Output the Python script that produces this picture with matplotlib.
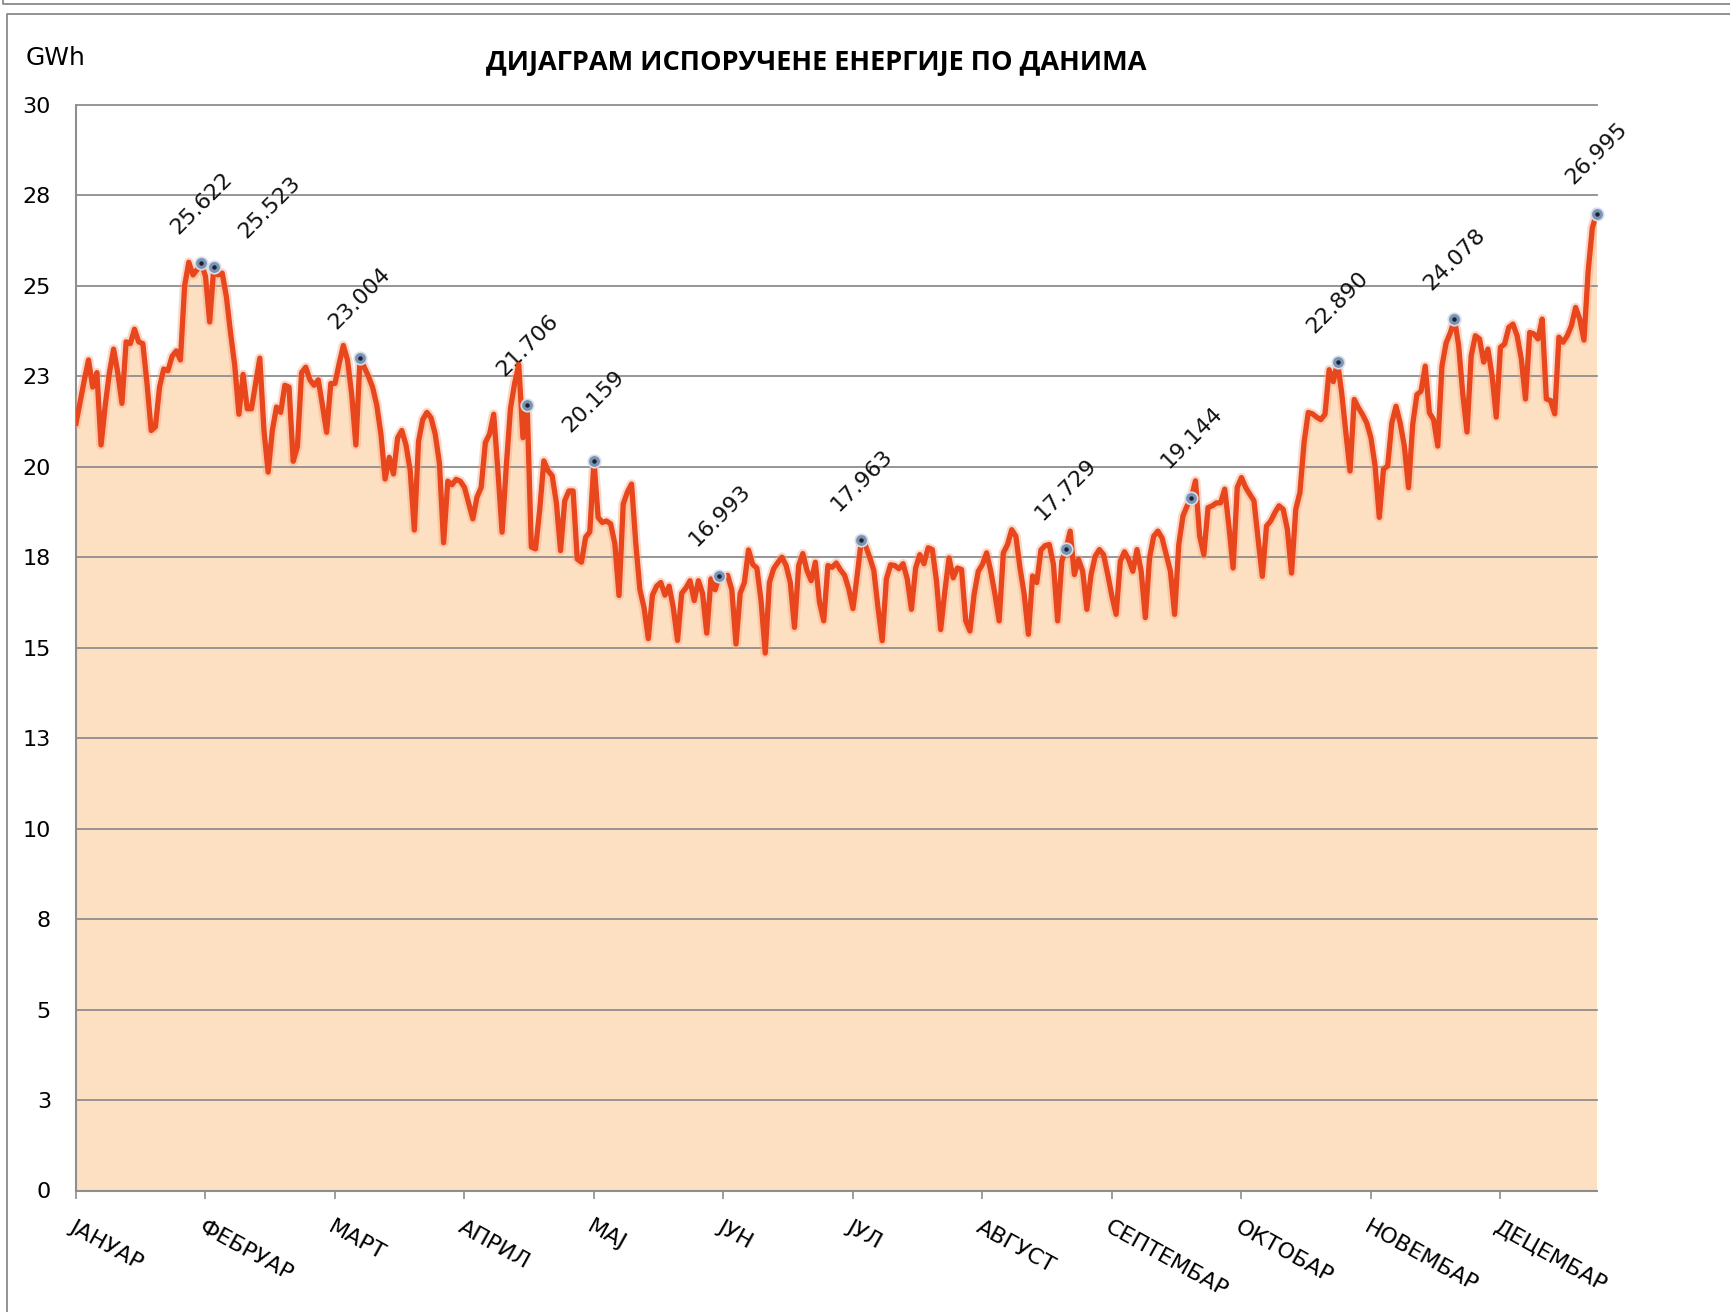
import numpy as np
import matplotlib.pyplot as plt
from matplotlib.lines import Line2D

# Daily delivered energy (GWh), one list per month
jan = [21.2, 21.8, 22.4, 22.95, 22.2, 22.6, 20.6, 21.7, 22.6, 23.25, 22.6, 21.75,
       23.45, 23.4, 23.8, 23.45, 23.4, 22.3, 21.0, 21.1, 22.2, 22.7, 22.65, 23.05,
       23.2, 22.95, 25.0, 25.65, 25.3, 25.45, 25.622]
feb = [25.26, 24.0, 25.523, 25.3, 25.35, 24.7, 23.7, 22.8, 21.45, 22.55, 21.6, 21.6,
       22.3, 23.0, 21.0, 19.85, 21.0, 21.65, 21.5, 22.25, 22.2, 20.15, 20.55, 22.6,
       22.75, 22.4, 22.25, 22.4]
mar = [21.7, 20.95, 22.3, 22.3, 22.85, 23.35, 22.95, 22.0, 20.6, 23.004, 22.75, 22.5,
       22.2, 21.7, 20.9, 19.66, 20.26, 19.8, 20.8, 21.0, 20.6, 19.9, 18.25, 20.7,
       21.3, 21.5, 21.35, 20.9, 20.1, 17.9, 19.6]
apr = [19.5, 19.65, 19.6, 19.43, 19.0, 18.56, 19.16, 19.43, 20.67, 20.9, 21.45, 19.9,
       18.19, 20.0, 21.6, 22.3, 22.82, 20.8, 21.706, 17.78, 17.73, 18.8, 20.16, 19.89,
       19.75, 19.0, 17.68, 19.06, 19.33, 19.33]
may = [17.45, 17.36, 18.05, 18.2, 20.159, 18.6, 18.46, 18.5, 18.42, 17.87, 16.44, 18.97,
       19.3, 19.52, 17.9, 16.6, 16.1, 15.25, 16.45, 16.7, 16.8, 16.45, 16.7, 16.1,
       15.2, 16.5, 16.65, 16.85, 16.3, 16.85, 16.5]
jun = [15.4, 16.9, 16.6, 16.993, 16.95, 17.0, 16.6, 15.1, 16.5, 16.8, 17.7, 17.3,
       17.2, 16.3, 14.85, 16.8, 17.18, 17.35, 17.5, 17.27, 16.8, 15.56, 17.27, 17.6,
       17.13, 16.85, 17.36, 16.25, 15.74, 17.27]
jul = [17.22, 17.34, 17.15, 17.0, 16.62, 16.08, 16.99, 17.963, 17.82, 17.5, 17.13, 16.1,
       15.19, 16.9, 17.29, 17.27, 17.18, 17.32, 16.9, 16.06, 17.2, 17.57, 17.32, 17.76,
       17.71, 16.84, 15.5, 16.56, 17.48, 16.93, 17.2]
aug = [17.16, 15.74, 15.46, 16.47, 17.11, 17.3, 17.62, 17.11, 16.47, 15.74, 17.62, 17.85,
       18.26, 18.08, 17.2, 16.47, 15.37, 16.98, 16.8, 17.7, 17.82, 17.85, 17.3, 15.74,
       17.39, 17.729, 18.22, 17.02, 17.44, 17.11, 16.06]
sep = [17.02, 17.53, 17.71, 17.57, 17.02, 16.42, 15.92, 17.39, 17.65, 17.44, 17.11, 17.71,
       17.11, 15.83, 17.48, 18.08, 18.22, 18.03, 17.57, 17.11, 15.92, 17.85, 18.64, 18.92,
       19.144, 19.61, 18.08, 17.57, 18.87, 18.92]
oct_ = [19.0, 19.0, 19.38, 18.36, 17.2, 19.43, 19.7, 19.43, 19.24, 19.06, 17.99, 16.97,
        18.36, 18.5, 18.73, 18.92, 18.82, 18.27, 17.06, 18.82, 19.29, 20.68, 21.5, 21.46,
        21.37, 21.3, 21.45, 22.68, 22.35, 22.890, 22.04]
nov = [20.94, 19.88, 21.86, 21.63, 21.44, 21.21, 20.8, 20.02, 18.6, 19.93, 20.02, 21.21,
       21.67, 21.21, 20.57, 19.42, 21.17, 21.99, 22.09, 22.78, 21.49, 21.3, 20.57, 22.78,
       23.42, 23.7, 24.078, 23.35, 22.0, 20.96]
dec = [23.07, 23.62, 23.53, 22.89, 23.25, 22.52, 21.37, 23.3, 23.39, 23.85, 23.94, 23.62,
       22.98, 21.87, 23.71, 23.67, 23.53, 24.08, 21.87, 21.83, 21.46, 23.58, 23.44, 23.62,
       23.9, 24.4, 24.08, 23.5, 25.4, 26.6, 26.995]

months = ['ЈАНУАР', 'ФЕБРУАР', 'МАРТ', 'АПРИЛ', 'МАЈ', 'ЈУН', 'ЈУЛ', 'АВГУСТ',
          'СЕПТЕМБАР', 'ОКТОБАР', 'НОВЕМБАР', 'ДЕЦЕМБАР']
y_ticks = [0, 2.5, 5, 7.5, 10, 12.5, 15, 17.5, 20, 22.5, 25, 27.5, 30]
y_tick_labels = ['0', '3', '5', '8', '10', '13', '15', '18', '20', '23', '25', '28', '30']
# days (0-based) that carry a value label
marked_days = [30, 33, 68, 108, 124, 154, 188, 237, 267, 302, 330, 364]

values = np.array(jan + feb + mar + apr + may + jun + jul + aug + sep + oct_ + nov + dec)
days = np.arange(len(values))

W, H = 1730, 1312
fig = plt.figure(figsize=(W / 100, H / 100), dpi=100)
plt.rcParams['font.family'] = 'DejaVu Sans'

# plot area in pixels: left 76, right 1596, top 105, bottom 1190
ax = fig.add_axes([76 / W, 1 - 1190.5 / H, (1596.5 - 76) / W, (1190.5 - 104.8) / H])
ax.set_xlim(0, len(values) - 1)
ax.set_ylim(0, 30)

ax.fill_between(days, values, 0, color='#FDDFC1', lw=0, zorder=1)
for y in y_ticks:
    ax.axhline(y, color='#8E8E8E', lw=1.3, zorder=2, clip_on=False)

# soft glow under the line
ax.plot(days, values, color='#F6A27C', lw=7, alpha=0.4, solid_joinstyle='round', zorder=3)
ax.plot(days, values, color='#E8461C', lw=3.8, solid_joinstyle='round', zorder=4)

# the February label is pushed right so it does not sit on the January one
label_shift = {33: 56}
for d in marked_days:
    v = values[d]
    ax.plot(d, v, 'o', ms=9, mfc='#7A93B2', mec='#D5DFEA', mew=1.2, zorder=5, clip_on=False)
    ax.plot(d, v, 'o', ms=2.2, color='#1B2230', zorder=6, clip_on=False)
    ax.annotate(f'{v:.3f}', (d, v), xytext=(label_shift.get(d, 0), 60),
                textcoords='offset pixels', ha='center', va='center',
                rotation=45, fontsize=16, color='#111111')

ax.set_yticks(y_ticks)
ax.set_yticklabels(y_tick_labels, fontsize=16)
ax.tick_params(axis='y', length=0, pad=18)

ax.set_xticks(days[::31])
ax.set_xticklabels(months, fontsize=16, rotation=-29, ha='left', va='top',
                   rotation_mode='anchor')
ax.tick_params(axis='x', length=6, width=1.2, color='#8E8E8E', pad=13)

for side in ['top', 'right']:
    ax.spines[side].set_visible(False)
ax.spines['left'].set_color('#8E8E8E')
ax.spines['left'].set_linewidth(1.5)
ax.spines['bottom'].set_color('#8E8E8E')
ax.spines['bottom'].set_linewidth(1.5)

fig.text(816 / W, 1 - 63 / H, 'ДИЈАГРАМ ИСПОРУЧЕНЕ ЕНЕРГИЈЕ ПО ДАНИМА',
         ha='center', va='center', fontsize=19.5, fontweight='bold', family='Open Sans')
fig.text(26 / W, 1 - 58 / H, 'GWh', ha='left', va='center', fontsize=18)

# chart frame lines along the top-left edge
def frame_line(xs, ys):
    fig.add_artist(Line2D([x / W for x in xs], [1 - y / H for y in ys],
                          color='#8A8A8A', lw=1.3))

frame_line([3, 3, W], [0, 3.5, 3.5])
frame_line([7.5, 7.5, W], [H, 13.5, 13.5])

fig.savefig('out.png', dpi=100, facecolor='white')
